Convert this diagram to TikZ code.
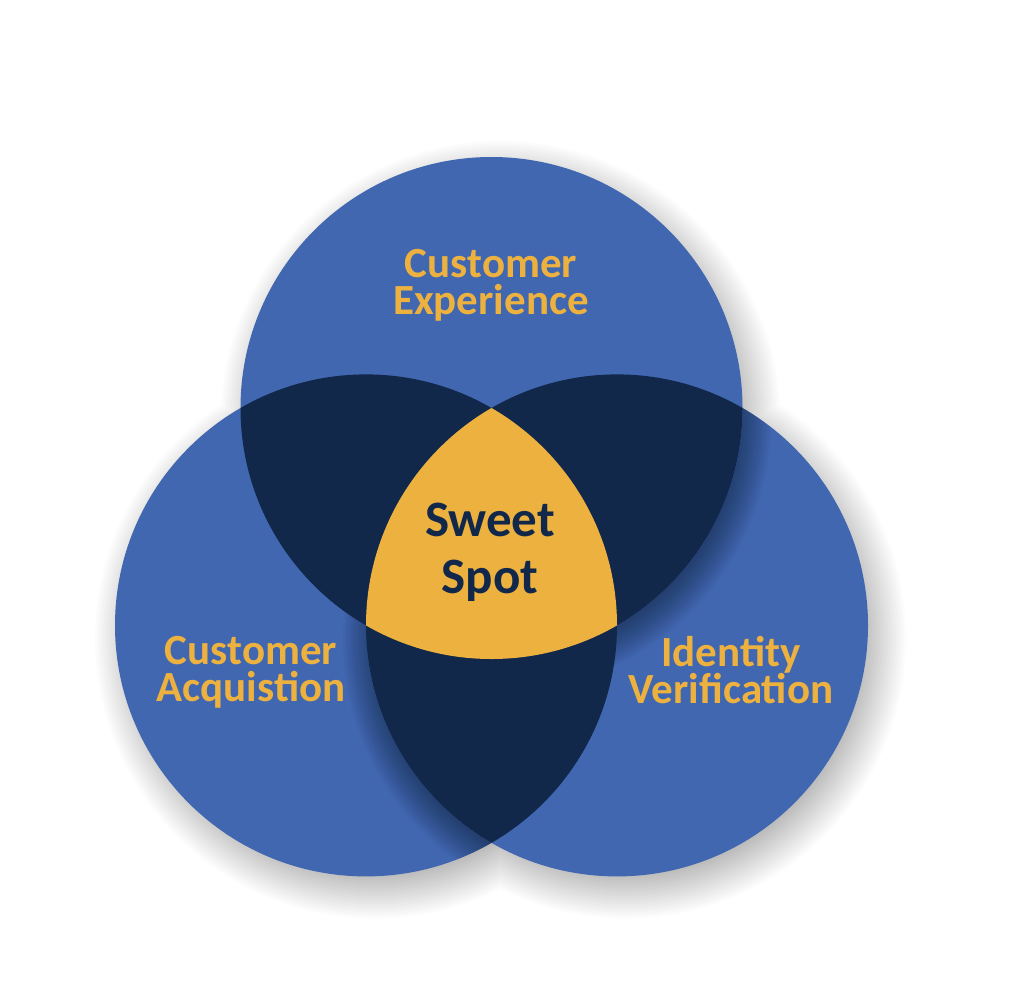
\documentclass[tikz,border=0pt]{standalone}
\usepackage{fontspec}
\setmainfont{Carlito}
\usetikzlibrary{calc}
\definecolor{cblue}{HTML}{4167B1}
\definecolor{cnavy}{HTML}{11284B}
\definecolor{cgold}{HTML}{EDB13F}
\begin{document}
\begin{tikzpicture}[x=1pt,y=-1pt,
  lbl/.style={font=\fontsize{43}{37}\selectfont\bfseries, text=cgold, align=center, inner sep=1pt},
  sweet/.style={font=\fontsize{51}{57}\selectfont\bfseries, text=cnavy, align=center, inner sep=1pt},
  shadowlayer/.style={fill=black, opacity=#1}]
\fill[white] (0,0) rectangle (1024,1001);
\useasboundingbox (0,0) rectangle (1024,1001);
\def\rad{251}
\coordinate (cT) at (491.5,408);
\coordinate (cL) at (366,625.4);
\coordinate (cR) at (617,625.4);
% outer soft shadow of the whole group
\foreach \i in {0,...,22}{
  \pgfmathsetmacro\rr{236+2*\i}
  \fill[shadowlayer=0.013] ($(cT)+(9,13)$) circle (\rr) ($(cL)+(9,13)$) circle (\rr) ($(cR)+(9,13)$) circle (\rr);
}
% left circle
\fill[cblue] (cL) circle (\rad);
% shadow of right circle on left circle
\begin{scope}
  \clip (cL) circle (\rad);
  \foreach \i in {0,...,18}{
    \pgfmathsetmacro\rr{238+2*\i}
    \fill[shadowlayer=0.025] ($(cR)+(0,14)$) circle (\rr);
  }
\end{scope}
% right circle
\fill[cblue] (cR) circle (\rad);
% shadow of top circle on right circle
\begin{scope}
  \clip (cR) circle (\rad);
  \foreach \i in {0,...,18}{
    \pgfmathsetmacro\rr{238+2*\i}
    \fill[shadowlayer=0.025] ($(cT)+(6,10)$) circle (\rr);
  }
\end{scope}
% top circle
\fill[cblue] (cT) circle (\rad);
% pairwise overlaps
\begin{scope}
  \clip (cL) circle (\rad);
  \fill[cnavy] (cT) circle (\rad);
  \fill[cnavy] (cR) circle (\rad);
\end{scope}
\begin{scope}
  \clip (cT) circle (\rad);
  \fill[cnavy] (cR) circle (\rad);
\end{scope}
% triple overlap
\begin{scope}
  \clip (cL) circle (\rad);
  \clip (cT) circle (\rad);
  \fill[cgold] (cR) circle (\rad);
\end{scope}
% labels
\node[lbl] (exp) at (491,285) {Customer\\Experience};
\node[lbl] (acq) at (251,672) {Customer\\Acquistion};
\node[lbl] (idv) at (731,670) {Identity\\Verification};
\node[sweet] (ss) at (490,552) {Sweet\\Spot};
\end{tikzpicture}
\end{document}
